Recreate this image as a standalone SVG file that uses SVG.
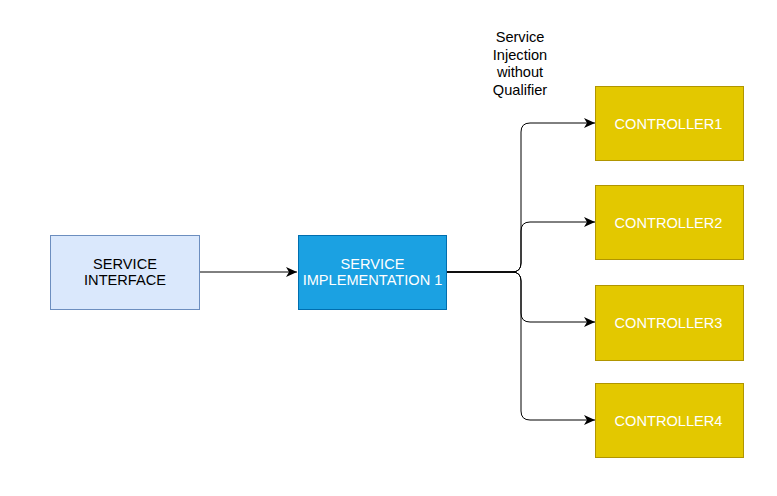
<svg xmlns="http://www.w3.org/2000/svg" width="777" height="496" viewBox="0 0 777 496">
<style>
text{font-family:"Liberation Sans",Arial,sans-serif;font-size:14.6px;text-anchor:middle}
.ctl rect{fill:#e3c800;stroke:#b09500;stroke-width:1}
.ctl text{fill:#ffffff}
.edge{fill:none;stroke:#000000;stroke-width:1}
</style>
<defs>
<marker id="arr" markerUnits="userSpaceOnUse" markerWidth="12" markerHeight="11" refX="11" refY="5.5" orient="auto">
<path d="M0,0.5 L11,5.5 L0,10.5 L3,5.5 Z" fill="#000"/>
</marker>
</defs>
<g id="connectors">
<path class="edge" d="M200 272 H297" marker-end="url(#arr)"/>
<path class="edge" d="M447 272 H512 Q521 272 521 263 V132 Q521 123 530 123 H595" marker-end="url(#arr)"/>
<path class="edge" d="M447 272 H512 Q521 272 521 263 V231 Q521 222 530 222 H595" marker-end="url(#arr)"/>
<path class="edge" d="M447 272 H512 Q521 272 521 281 V313 Q521 322 530 322 H595" marker-end="url(#arr)"/>
<path class="edge" d="M447 272 H512 Q521 272 521 281 V411 Q521 420 530 420 H595" marker-end="url(#arr)"/>
</g>
<g id="label-injection">
<text x="520" y="42">Service</text>
<text x="520" y="60">Injection</text>
<text x="520" y="77">without</text>
<text x="520" y="95">Qualifier</text>
</g>
<g id="service-interface">
<rect x="50.5" y="235.5" width="149" height="74" fill="#dae8fc" stroke="#6c8ebf"/>
<text x="125" y="269">SERVICE</text>
<text x="125" y="285">INTERFACE</text>
</g>
<g id="service-implementation">
<rect x="298.5" y="235.5" width="148" height="74" fill="#1ba1e2" stroke="#006eaf"/>
<text x="372.5" y="269" fill="#ffffff">SERVICE</text>
<text x="372.5" y="285" fill="#ffffff">IMPLEMENTATION 1</text>
</g>
<g id="controller1" class="ctl">
<rect x="595.5" y="86.5" width="148" height="74"/>
<text x="668.5" y="129">CONTROLLER1</text>
</g>
<g id="controller2" class="ctl">
<rect x="595.5" y="185.5" width="148" height="74"/>
<text x="668.5" y="228">CONTROLLER2</text>
</g>
<g id="controller3" class="ctl">
<rect x="595.5" y="285.5" width="148" height="75"/>
<text x="668.5" y="328">CONTROLLER3</text>
</g>
<g id="controller4" class="ctl">
<rect x="595.5" y="383.5" width="148" height="74"/>
<text x="668.5" y="426">CONTROLLER4</text>
</g>
</svg>
